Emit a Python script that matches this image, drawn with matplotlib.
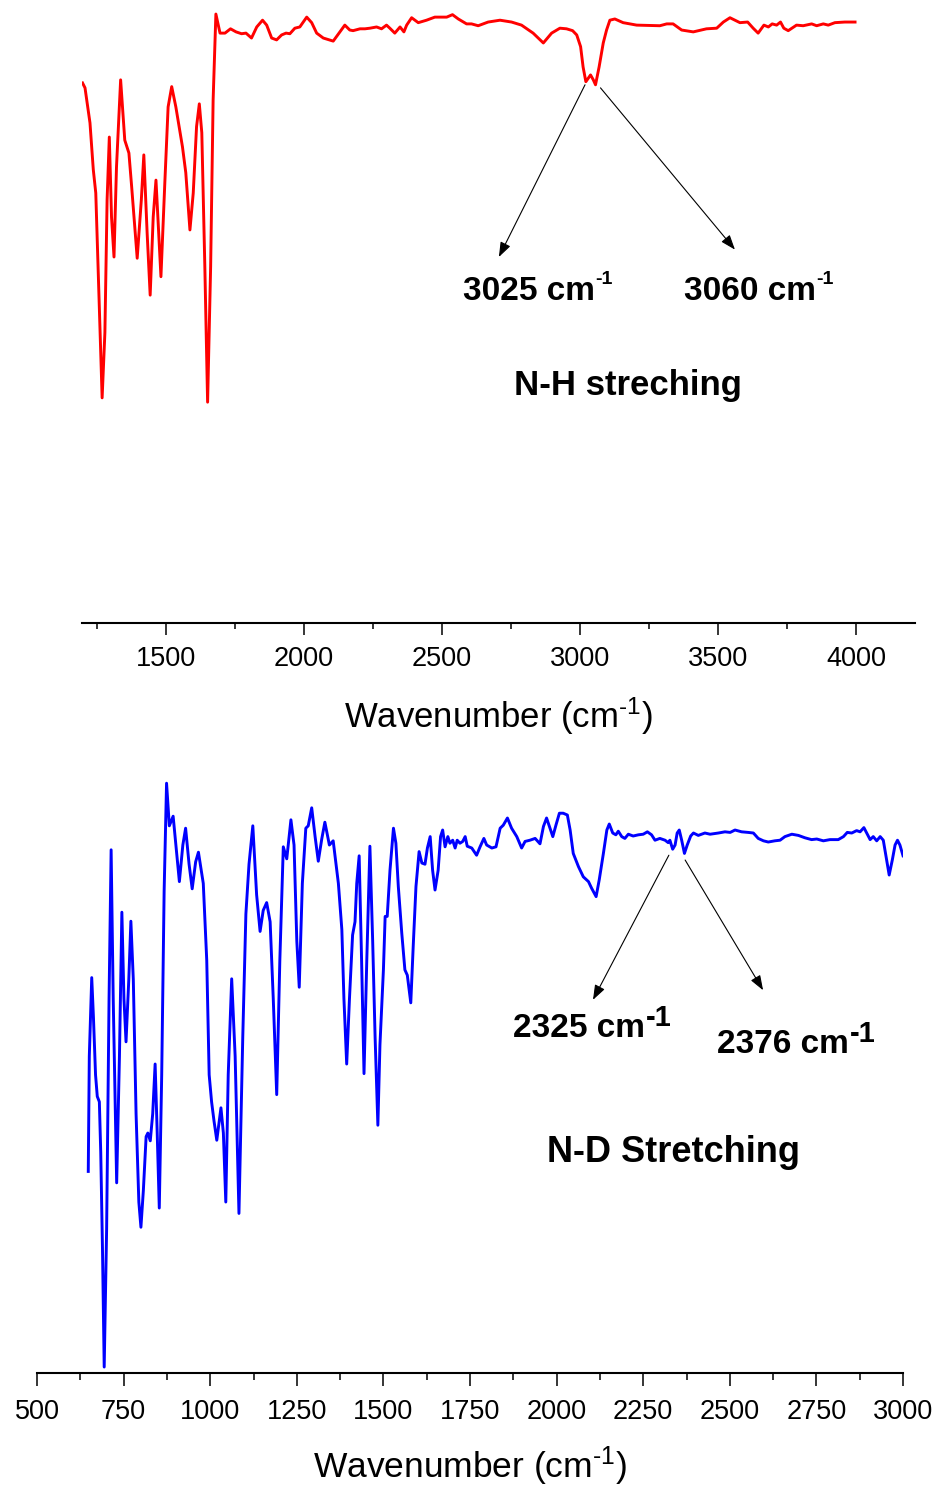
import matplotlib
matplotlib.use('Agg')
import matplotlib.pyplot as plt
from matplotlib.ticker import MultipleLocator

plt.rcParams['font.family'] = ['Liberation Sans', 'DejaVu Sans']
plt.rcParams['mathtext.fontset'] = 'custom'
plt.rcParams['mathtext.rm'] = 'Liberation Sans'
plt.rcParams['mathtext.it'] = 'Liberation Sans:italic'
plt.rcParams['mathtext.bf'] = 'Liberation Sans:bold'

# N-H sample (top panel): wavenumber (cm-1) and transmittance (a.u.)
nh_wn = [1198, 1207, 1225, 1237, 1246, 1258, 1269, 1279, 1287, 1295,
         1303, 1312, 1321, 1336, 1351, 1366, 1376, 1396, 1411, 1420,
         1432, 1443, 1454, 1464, 1474, 1482, 1496, 1508, 1521, 1536,
         1560, 1572, 1587, 1599, 1611, 1621, 1630, 1641, 1651, 1662,
         1671, 1681, 1696, 1714, 1734, 1754, 1774, 1790, 1810, 1829,
         1850, 1865, 1883, 1901, 1919, 1935, 1949, 1967, 1985, 2010,
         2028, 2046, 2070, 2106, 2130, 2148, 2166, 2178, 2203, 2221,
         2239, 2263, 2281, 2299, 2311, 2329, 2348, 2362, 2372, 2390,
         2414, 2444, 2474, 2517, 2538, 2559, 2589, 2607, 2631, 2667,
         2710, 2752, 2788, 2830, 2867, 2897, 2927, 2951, 2973, 2988,
         3002, 3011, 3021, 3038, 3048, 3056, 3069, 3084, 3096, 3108,
         3126, 3156, 3205, 3289, 3314, 3337, 3368, 3410, 3458, 3495,
         3519, 3543, 3579, 3607, 3627, 3645, 3666, 3682, 3696, 3712,
         3726, 3738, 3754, 3784, 3808, 3839, 3857, 3881, 3899, 3923,
         3959, 3996]
nh_t = [87.8, 87.0, 81.3, 73.7, 69.9, 52.5, 36.6, 47.2, 68.8, 79.0,
        66.0, 59.5, 74.1, 88.3, 78.5, 76.4, 70.9, 59.3, 68.8, 76.1,
        63.4, 53.3, 66.0, 72.0, 63.4, 56.3, 71.5, 83.9, 87.2, 83.9,
        77.4, 73.2, 63.9, 69.9, 80.7, 84.4, 79.7, 57.9, 35.9, 57.9,
        85.0, 99.0, 95.9, 95.9, 96.6, 96.1, 95.8, 95.9, 95.1, 96.9,
        98.0, 97.2, 95.1, 94.8, 95.6, 95.9, 95.8, 96.7, 96.9, 98.5,
        97.6, 95.9, 95.1, 94.6, 96.1, 97.2, 96.4, 96.3, 96.6, 96.6,
        96.7, 96.9, 96.6, 97.2, 96.7, 95.9, 96.9, 96.1, 97.2, 98.4,
        97.6, 98.0, 98.5, 98.5, 98.9, 98.2, 97.4, 97.4, 97.1, 97.7,
        98.0, 97.7, 97.2, 95.9, 94.3, 95.9, 96.7, 96.6, 96.3, 95.6,
        93.7, 90.4, 88.0, 89.1, 88.3, 87.5, 90.4, 94.3, 96.4, 98.0,
        98.2, 97.6, 97.2, 97.1, 97.4, 97.4, 96.4, 96.1, 96.6, 96.7,
        97.7, 98.4, 97.6, 97.7, 96.7, 95.9, 97.2, 96.9, 97.4, 97.2,
        97.7, 96.7, 96.3, 97.2, 97.1, 97.4, 97.1, 97.4, 97.2, 97.6,
        97.7, 97.7]

# N-D sample (bottom panel)
nd_wn = [648, 651, 658, 663, 669, 674, 680, 684, 689, 694,
         701, 708, 714, 720, 730, 738, 745, 751, 757, 765,
         771, 778, 786, 794, 800, 807, 815, 820, 827, 834,
         841, 847, 853, 860, 867, 874, 882, 893, 901, 911,
         921, 929, 939, 948, 958, 966, 980, 990, 997, 1004,
         1011, 1019, 1031, 1038, 1045, 1052, 1062, 1072, 1083, 1094,
         1103, 1112, 1123, 1134, 1144, 1153, 1163, 1173, 1182, 1192,
         1201, 1211, 1221, 1233, 1242, 1250, 1257, 1266, 1276, 1283,
         1293, 1303, 1312, 1322, 1331, 1344, 1355, 1370, 1380, 1386,
         1394, 1402, 1411, 1418, 1423, 1430, 1437, 1444, 1452, 1461,
         1469, 1476, 1484, 1490, 1500, 1505, 1511, 1519, 1529, 1536,
         1543, 1553, 1562, 1569, 1579, 1586, 1594, 1603, 1611, 1620,
         1627, 1635, 1642, 1649, 1658, 1665, 1671, 1678, 1686, 1692,
         1700, 1707, 1713, 1721, 1729, 1736, 1742, 1755, 1769, 1779,
         1790, 1798, 1813, 1825, 1837, 1846, 1858, 1870, 1885, 1899,
         1909, 1923, 1938, 1952, 1962, 1971, 1981, 1989, 1998, 2008,
         2019, 2031, 2039, 2048, 2063, 2077, 2092, 2101, 2114, 2123,
         2135, 2145, 2152, 2162, 2171, 2178, 2188, 2197, 2207, 2221,
         2236, 2250, 2262, 2274, 2284, 2298, 2313, 2322, 2327, 2335,
         2342, 2348, 2354, 2361, 2369, 2377, 2387, 2395, 2409, 2428,
         2443, 2467, 2486, 2501, 2515, 2534, 2553, 2568, 2582, 2597,
         2611, 2630, 2645, 2659, 2679, 2698, 2717, 2736, 2751, 2770,
         2789, 2813, 2828, 2839, 2852, 2866, 2876, 2887, 2895, 2905,
         2914, 2924, 2934, 2943, 2951, 2960, 2969, 2977, 2984, 2991,
         3000]
nd_t = [33.6, 52.8, 65.9, 59.2, 49.7, 46.1, 45.2, 36.8, 20.8, 1.0,
        24.0, 62.4, 87.2, 62.4, 31.7, 52.8, 76.8, 62.4, 55.2, 65.6,
        75.3, 65.6, 43.2, 28.5, 24.3, 30.4, 39.4, 40.0, 38.7, 43.2,
        51.5, 40.0, 27.5, 49.7, 80.3, 98.3, 91.2, 92.8, 88.0, 81.9,
        88.0, 90.8, 84.8, 80.7, 85.2, 86.8, 81.6, 68.8, 49.7, 45.2,
        42.0, 38.8, 44.2, 40.0, 28.5, 49.7, 65.7, 52.8, 26.6, 56.0,
        76.5, 84.8, 91.2, 79.7, 73.6, 77.1, 78.4, 75.2, 62.4, 46.4,
        68.8, 87.7, 85.7, 92.2, 88.0, 72.0, 64.3, 81.6, 90.8, 91.2,
        94.2, 89.3, 85.3, 89.0, 91.8, 88.0, 88.7, 81.6, 73.9, 62.4,
        51.5, 62.4, 73.0, 75.2, 81.6, 86.2, 68.8, 49.9, 68.8, 87.8,
        72.0, 56.0, 41.3, 54.7, 67.2, 76.1, 76.1, 83.8, 90.8, 88.3,
        81.1, 73.3, 67.2, 66.3, 61.7, 71.1, 81.1, 86.9, 85.0, 84.8,
        87.5, 89.4, 83.8, 80.5, 83.8, 89.4, 90.5, 87.7, 89.4, 88.3,
        88.8, 87.5, 88.8, 88.3, 88.6, 89.4, 87.8, 87.5, 86.3, 87.7,
        89.1, 88.0, 87.5, 87.7, 90.8, 91.3, 92.5, 90.8, 89.4, 87.5,
        88.6, 88.8, 89.1, 88.2, 91.1, 92.5, 90.8, 89.4, 91.3, 93.3,
        93.3, 93.0, 90.5, 86.6, 84.4, 82.7, 81.9, 80.8, 79.4, 82.2,
        86.6, 90.5, 91.5, 90.0, 89.7, 90.3, 89.4, 89.1, 89.8, 89.5,
        89.7, 89.8, 90.2, 89.7, 88.8, 89.1, 88.8, 88.4, 88.8, 87.3,
        88.0, 90.0, 90.5, 88.8, 86.6, 88.0, 89.5, 90.0, 89.6, 90.0,
        89.8, 90.0, 90.2, 90.1, 90.5, 90.2, 90.1, 90.0, 89.1, 88.7,
        88.5, 88.7, 88.8, 89.4, 89.8, 89.6, 89.2, 88.9, 89.0, 88.7,
        88.9, 88.9, 89.4, 90.1, 90.0, 90.4, 90.2, 90.9, 90.0, 88.9,
        89.4, 88.7, 89.4, 88.8, 86.1, 83.0, 85.5, 88.0, 88.8, 88.0,
        86.2]

xlabel = 'Wavenumber (cm$^{\\text{-1}}$)'


def style_axis(ax, major, minor, maj_len, min_len, pad):
    for side in ['left', 'right', 'top']:
        ax.spines[side].set_visible(False)
    ax.spines['bottom'].set_linewidth(1.5)
    ax.set_yticks([])
    ax.xaxis.set_major_locator(MultipleLocator(major))
    ax.xaxis.set_minor_locator(MultipleLocator(minor))
    ax.tick_params(axis='x', which='major', length=maj_len, width=1.1,
                   labelsize=19.5, pad=pad)
    ax.tick_params(axis='x', which='minor', length=min_len, width=1.1)


def label_with_sup(ax, x, y, text, sup, sup_size, sup_raise):
    t = ax.text(x, y, text, fontsize=24, fontweight='bold',
                ha='left', va='baseline')
    ax.annotate(sup, xy=(1, 0), xycoords=t, xytext=(0.5, sup_raise),
                textcoords='offset points', fontsize=sup_size,
                fontweight='bold', ha='left', va='bottom')


def arrow(ax, start, tip):
    ax.annotate('', xy=tip, xytext=start,
                arrowprops=dict(arrowstyle='-|>,head_length=0.6,head_width=0.22',
                                color='black', lw=0.8, mutation_scale=15,
                                shrinkA=0, shrinkB=0))


fig = plt.figure(figsize=(9.39, 14.9), dpi=100)

# top panel: N-H
ax1 = fig.add_axes([0.0873, 0.5819, 0.8871, 0.4128])
ax1.plot(nh_wn, nh_t, color='#ff0000', lw=2.1, solid_joinstyle='round')
ax1.set_xlim(1196, 4213)
ax1.set_ylim(0, 100)
style_axis(ax1, 500, 250, 8.5, 4.5, 8)
ax1.set_xlabel(xlabel, fontsize=25, labelpad=17)

arrow(ax1, (3018, 87.5), (2706, 59.5))
arrow(ax1, (3074, 87.0), (3561, 60.7))
label_with_sup(ax1, 2576, 52.5, '3025 cm', '-1', 14, 14)
label_with_sup(ax1, 3376, 52.5, '3060 cm', '-1', 14, 14)
ax1.text(3173, 37.1, 'N-H streching', fontsize=25, fontweight='bold',
         ha='center', va='baseline')

# bottom panel: N-D
ax2 = fig.add_axes([0.0394, 0.0785, 0.9223, 0.4027])
ax2.plot(nd_wn, nd_t, color='#0000ff', lw=2.1, solid_joinstyle='round')
ax2.set_xlim(500, 3000)
ax2.set_ylim(0, 100)
style_axis(ax2, 250, 125, 9, 5, 10)
ax2.set_xlabel(xlabel, fontsize=25.5, labelpad=14)

arrow(ax2, (2324, 86.3), (2105, 62.2))
arrow(ax2, (2371, 85.5), (2596, 63.8))
label_with_sup(ax2, 1874, 56.0, '2325 cm', '-1', 21, 9)
label_with_sup(ax2, 2463, 53.3, '2376 cm', '-1', 21, 9)
ax2.text(2337, 35.2, 'N-D Stretching', fontsize=26, fontweight='bold',
         ha='center', va='baseline')

fig.savefig('out.png', dpi=100)
